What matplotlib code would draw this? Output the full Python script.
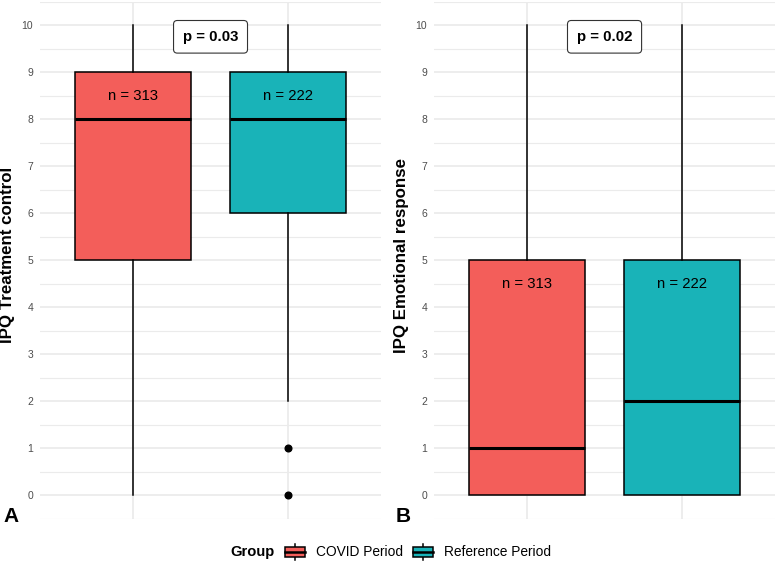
import numpy as np
import matplotlib
matplotlib.use("Agg")
import matplotlib.pyplot as plt
from matplotlib.patches import Rectangle, Patch
from matplotlib.lines import Line2D
from matplotlib.legend_handler import HandlerBase
from matplotlib.ticker import MultipleLocator

plt.rcParams['font.family'] = ['Liberation Sans', 'DejaVu Sans']

# groups and colours
groups = ["COVID Period", "Reference Period"]
colors = ["#F35E5A", "#19B3B8"]
n_labels = ["n = 313", "n = 222"]

# panel A: IPQ Treatment control
tc_whislo = [0, 2]
tc_q1 = [5, 6]
tc_med = [8, 8]
tc_q3 = [9, 9]
tc_whishi = [10, 10]
tc_fliers = [[], [1, 0]]
tc_p = "p = 0.03"

# panel B: IPQ Emotional response
er_whislo = [0, 0]
er_q1 = [0, 0]
er_med = [1, 2]
er_q3 = [5, 5]
er_whishi = [10, 10]
er_fliers = [[], []]
er_p = "p = 0.02"

y_ticks = list(range(0, 11))


class BoxKey(HandlerBase):
    # legend glyph like ggplot's boxplot key
    def create_artists(self, legend, orig_handle, xdescent, ydescent,
                       width, height, fontsize, trans):
        fc = orig_handle.get_facecolor()
        x0, y0 = -xdescent, -ydescent
        rect = Rectangle((x0, y0 + height * 0.15), width, height * 0.7,
                         facecolor=fc, edgecolor="black", lw=1.1, transform=trans)
        med = Line2D([x0, x0 + width], [y0 + height / 2] * 2,
                     color="black", lw=1.8, transform=trans)
        wl = Line2D([x0 + width / 2] * 2, [y0 - height * 0.05, y0 + height * 0.15],
                    color="black", lw=1.1, transform=trans)
        wh = Line2D([x0 + width / 2] * 2, [y0 + height * 0.85, y0 + height * 1.05],
                    color="black", lw=1.1, transform=trans)
        return [wl, wh, rect, med]


def draw_panel(ax, whislo, q1, med, q3, whishi, fliers, ptext, ylabel, label_x):
    stats = []
    for i in range(len(groups)):
        stats.append(dict(whislo=whislo[i], q1=q1[i], med=med[i], q3=q3[i],
                          whishi=whishi[i], fliers=fliers[i]))
    ax.set_axisbelow(True)
    bp = ax.bxp(stats, positions=[1, 2], widths=0.75, patch_artist=True,
                showcaps=False,
                boxprops=dict(edgecolor="black", linewidth=1.1),
                medianprops=dict(color="black", linewidth=2.2, solid_capstyle="butt"),
                whiskerprops=dict(color="black", linewidth=1.1),
                flierprops=dict(marker="o", markerfacecolor="black",
                                markeredgecolor="black", markersize=4.8))
    for patch, c in zip(bp["boxes"], colors):
        patch.set_facecolor(c)
    for i in range(len(groups)):
        ax.text(i + 1, q3[i] - 0.5, n_labels[i], ha="center", va="center",
                fontsize=10.7, color="black")
    ax.text(1.5, 9.75, ptext, ha="center", va="center", fontsize=10.8,
            fontweight="bold",
            bbox=dict(boxstyle="round,pad=0.62,rounding_size=0.25", fc="white",
                      ec="#333333", lw=0.8))
    ax.set_xlim(0.4, 2.6)
    ax.set_ylim(-0.5, 10.5)
    ax.set_yticks(y_ticks)
    ax.yaxis.set_minor_locator(MultipleLocator(0.5))
    ax.set_xticks([1, 2])
    ax.set_xticklabels([])
    ax.grid(True, which="major", color="#E8E8E8", lw=1.1)
    ax.grid(True, which="minor", axis="y", color="#EBEBEB", lw=0.8)
    ax.tick_params(axis="both", which="both", length=0)
    ax.tick_params(axis="y", labelsize=7.5, labelcolor="#4D4D4D", pad=5)
    for s in ax.spines.values():
        s.set_visible(False)
    ax.set_ylabel(ylabel, fontsize=12.2, fontweight="bold")
    ax.yaxis.set_label_coords(label_x, 0.51)


fig = plt.figure(figsize=(7.77, 5.62), dpi=100)
ax1 = fig.add_axes([0.0515, 0.0765, 0.4389, 0.9208])
ax2 = fig.add_axes([0.5586, 0.0765, 0.4389, 0.9208])

draw_panel(ax1, tc_whislo, tc_q1, tc_med, tc_q3, tc_whishi, tc_fliers, tc_p,
           "IPQ Treatment control", -0.072)
draw_panel(ax2, er_whislo, er_q1, er_med, er_q3, er_whishi, er_fliers, er_p,
           "IPQ Emotional response", -0.074)

fig.text(3 / 777, 1 - 522 / 562, "A", fontsize=15, fontweight="bold",
         ha="left", va="baseline")
fig.text(396 / 777, 1 - 522 / 562, "B", fontsize=15, fontweight="bold",
         ha="left", va="baseline")

# legend at the bottom, title to the left
handles = [Patch(facecolor=c, edgecolor="black") for c in colors]
fig.text(230 / 777, 1 - 552 / 562, "Group", fontsize=10.6, fontweight="bold",
         ha="left", va="center")
fig.legend(handles, groups, handler_map={Patch: BoxKey()},
           loc="center left", bbox_to_anchor=(285 / 777, 1 - 552 / 562),
           ncol=2, frameon=False, fontsize=9.9, handlelength=1.45,
           handleheight=1.25, handletextpad=0.8, columnspacing=0.75,
           borderpad=0, borderaxespad=0)

fig.savefig("out.png", dpi=100)
